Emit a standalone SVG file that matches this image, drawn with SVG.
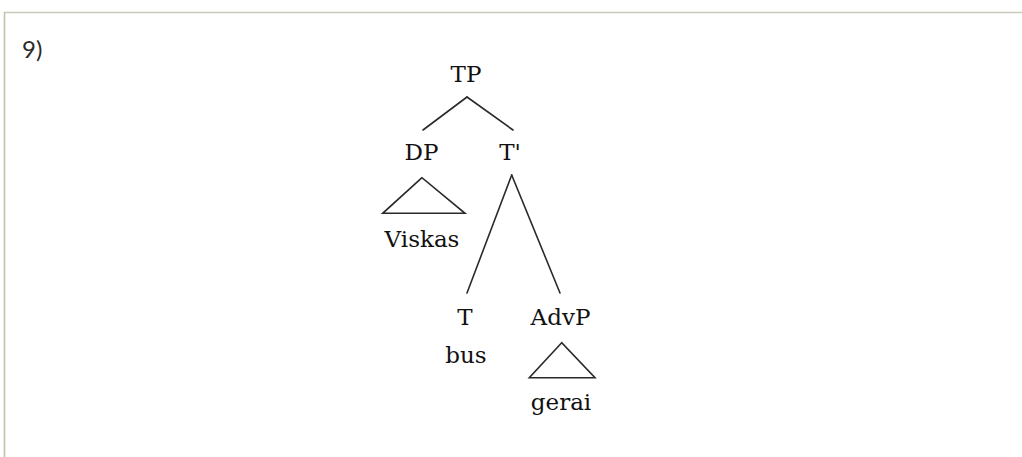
<svg xmlns="http://www.w3.org/2000/svg" width="1022" height="457" viewBox="0 0 1022 457">
<style>
.lbl{font-family:"DejaVu Serif","Liberation Serif",serif;font-size:23px;fill:#111;text-anchor:middle}
.edge{stroke:#2a2a2a;stroke-width:1.6;fill:none;stroke-linecap:round}
.tri{stroke:#2a2a2a;stroke-width:1.6;fill:none;stroke-linejoin:miter}
</style>
<rect x="0" y="0" width="1022" height="457" fill="#ffffff"/>
<g id="frame">
<line x1="4" y1="12.5" x2="1022" y2="12.5" stroke="#c6cbba" stroke-width="1.6"/>
<line x1="4.5" y1="12" x2="4.5" y2="457" stroke="#b9c6aa" stroke-width="1.6"/>
</g>
<text x="22" y="58" style="font-family:Lato,'Open Sans',sans-serif;font-size:24px;fill:#2a2a2a">9)</text>
<g id="connectors">
<line class="edge" x1="467" y1="97" x2="423" y2="130"/>
<line class="edge" x1="467" y1="97" x2="513" y2="130"/>
<line class="edge" x1="511.7" y1="175" x2="467" y2="293"/>
<line class="edge" x1="511.7" y1="175" x2="560" y2="293"/>
</g>
<g id="node-TP"><text class="lbl" x="466" y="82">TP</text></g>
<g id="node-DP">
<text class="lbl" x="421.5" y="160">DP</text>
<polygon class="tri" points="422,177.7 382.7,213.3 465,213.3"/>
<text class="lbl" x="422" y="247">Viskas</text>
</g>
<g id="node-Tbar"><text class="lbl" x="510" y="160">T'</text></g>
<g id="node-T">
<text class="lbl" x="465" y="325">T</text>
<text class="lbl" x="466" y="363">bus</text>
</g>
<g id="node-AdvP">
<text class="lbl" x="560.5" y="325">AdvP</text>
<polygon class="tri" points="561.7,342.7 529.3,377.7 595,377.7"/>
<text class="lbl" x="561" y="410">gerai</text>
</g>
</svg>
